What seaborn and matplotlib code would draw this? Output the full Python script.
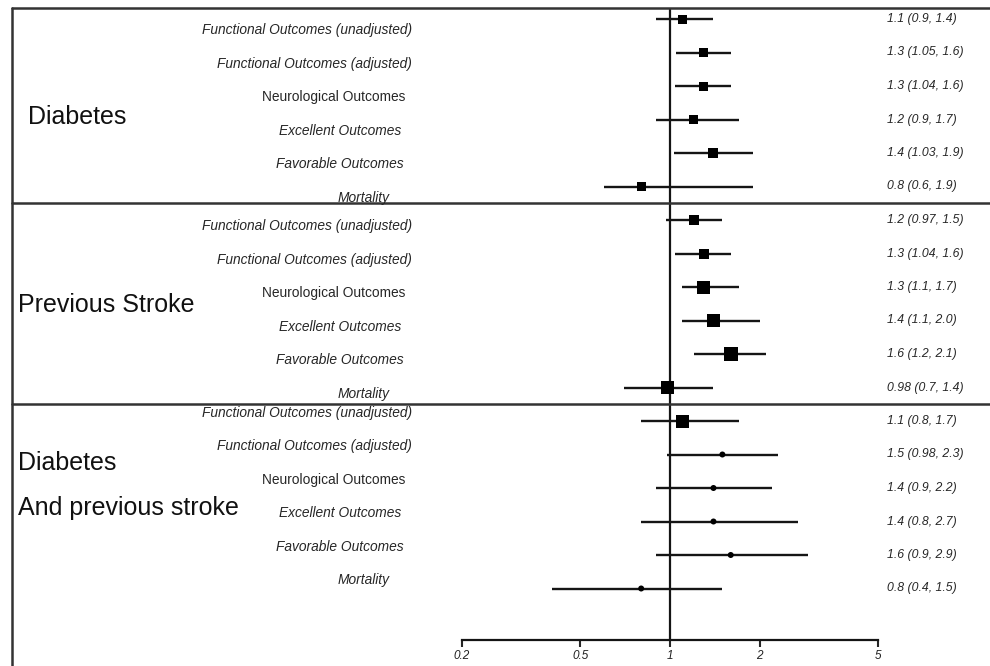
import numpy as np
import pandas as pd
import matplotlib
matplotlib.use("Agg")
import matplotlib.pyplot as plt
import seaborn as sns
from matplotlib.lines import Line2D
from matplotlib.ticker import NullLocator

# === Data ===
groups = ["Diabetes", "Previous Stroke", "Diabetes\nAnd previous stroke"]
outcomes = [
    "Functional Outcomes (unadjusted)",
    "Functional Outcomes (adjusted)",
    "Neurological Outcomes",
    "Excellent Outcomes",
    "Favorable Outcomes",
    "Mortality",
]
odds_ratio = [1.1, 1.3, 1.3, 1.2, 1.4, 0.8,
              1.2, 1.3, 1.3, 1.4, 1.6, 0.98,
              1.1, 1.5, 1.4, 1.4, 1.6, 0.8]
ci_low = [0.9, 1.05, 1.04, 0.9, 1.03, 0.6,
          0.97, 1.04, 1.1, 1.1, 1.2, 0.7,
          0.8, 0.98, 0.9, 0.8, 0.9, 0.4]
ci_high = [1.4, 1.6, 1.6, 1.7, 1.9, 1.9,
           1.5, 1.6, 1.7, 2.0, 2.1, 1.4,
           1.7, 2.3, 2.2, 2.7, 2.9, 1.5]
ci_text = ["1.1 (0.9, 1.4)", "1.3 (1.05, 1.6)", "1.3 (1.04, 1.6)",
           "1.2 (0.9, 1.7)", "1.4 (1.03, 1.9)", "0.8 (0.6, 1.9)",
           "1.2 (0.97, 1.5)", "1.3 (1.04, 1.6)", "1.3 (1.1, 1.7)",
           "1.4 (1.1, 2.0)", "1.6 (1.2, 2.1)", "0.98 (0.7, 1.4)",
           "1.1 (0.8, 1.7)", "1.5 (0.98, 2.3)", "1.4 (0.9, 2.2)",
           "1.4 (0.8, 2.7)", "1.6 (0.9, 2.9)", "0.8 (0.4, 1.5)"]
tick_values = [0.2, 0.5, 1, 2, 5]
tick_labels = ["0.2", "0.5", "1", "2", "5"]

# === Styling (marker side in px, shape per row) ===
marker_px = [9, 9, 9, 9, 10, 9,
             10, 10, 13, 13, 14, 13,
             13, 6, 6, 6, 6, 6]
marker_shape = ["box"] * 13 + ["dot"] * 5

rows = np.arange(len(odds_ratio))
df = pd.DataFrame({
    "or": odds_ratio,
    "row": rows,
    "shape": marker_shape,
    "sz": [str(p) for p in marker_px],
})

sns.set_theme(style="white")
plt.rcParams["font.family"] = ["Liberation Sans", "DejaVu Sans"]

W, H = 990, 666
fig = plt.figure(figsize=(W / 100, H / 100), dpi=100)
# axes spans from top border (y=8px) down to the x-axis line (y=640px)
ax = fig.add_axes([0, (H - 640) / H, 1, (640 - 8) / H])
ax.set_xscale("log")
px_per_ln = 129.2
ax.set_xlim(np.exp(-670 / px_per_ln), np.exp((W - 670) / px_per_ln))
ax.set_ylim((640 - 19) / 33.5, (8 - 19) / 33.5)

ink = "#151515"

# confidence intervals
ax.hlines(rows, ci_low, ci_high, color=ink, lw=1.7, zorder=2)

# point estimates
size_map = {str(p): (p * 0.72) ** 2 for p in set(marker_px)}
sns.scatterplot(data=df, x="or", y="row", size="sz", sizes=size_map,
                style="shape", markers={"box": "s", "dot": "o"},
                color="black", linewidth=0, legend=False, ax=ax, zorder=3)

# reference line at 1
ax.axvline(1, color=ink, lw=1.6, zorder=1)

# group separators and outer box
for y in [5.5, 11.5]:
    ax.axhline(y, xmin=12 / W, xmax=1, color="#333333", lw=1.8)
fig.add_artist(Line2D([12 / W, 12 / W], [0, 1 - 8 / H], color="#333333", lw=1.8))
fig.add_artist(Line2D([12 / W, 1], [1 - 8 / H, 1 - 8 / H], color="#333333", lw=1.8))

# x axis
for s in ["top", "left", "right"]:
    ax.spines[s].set_visible(False)
ax.spines["bottom"].set_bounds(0.2, 5)
ax.spines["bottom"].set_linewidth(1.6)
ax.spines["bottom"].set_color(ink)
ax.set_xticks(tick_values)
ax.set_xticklabels(tick_labels, style="italic", fontsize=8.5, color="#222222")
ax.xaxis.set_minor_locator(NullLocator())
ax.tick_params(axis="x", direction="out", length=5, width=1.5, pad=2, bottom=True)
ax.set_yticks([])
ax.set_xlabel("")
ax.set_ylabel("")

# outcome labels
label_right = [412, 412, 405, 401, 404, 390]
label_shift = [0.33, 0.18, -0.24]
trans = ax.get_yaxis_transform()
for i, r in enumerate(rows):
    g, k = divmod(i, 6)
    ax.text(label_right[k] / W, r + label_shift[g], outcomes[k],
            transform=trans, ha="right", va="center", fontsize=9.9,
            style="normal" if k == 2 else "italic", color="#262626")
    ax.text(887 / W, r, ci_text[i], transform=trans, ha="left", va="center",
            fontsize=8.8, style="italic", color="#262626")

# group titles
title_pos = [(28, 2.93), (18, 8.54), (18, 13.25)]
for g, (xp, yr) in enumerate(title_pos):
    lines = groups[g].split("\n")
    for j, t in enumerate(lines):
        ax.text(xp / W, yr + j * 1.35, t, transform=trans, ha="left",
                va="center", fontsize=18, color="#111111")

plt.savefig("out.png", dpi=100)
plt.close()
